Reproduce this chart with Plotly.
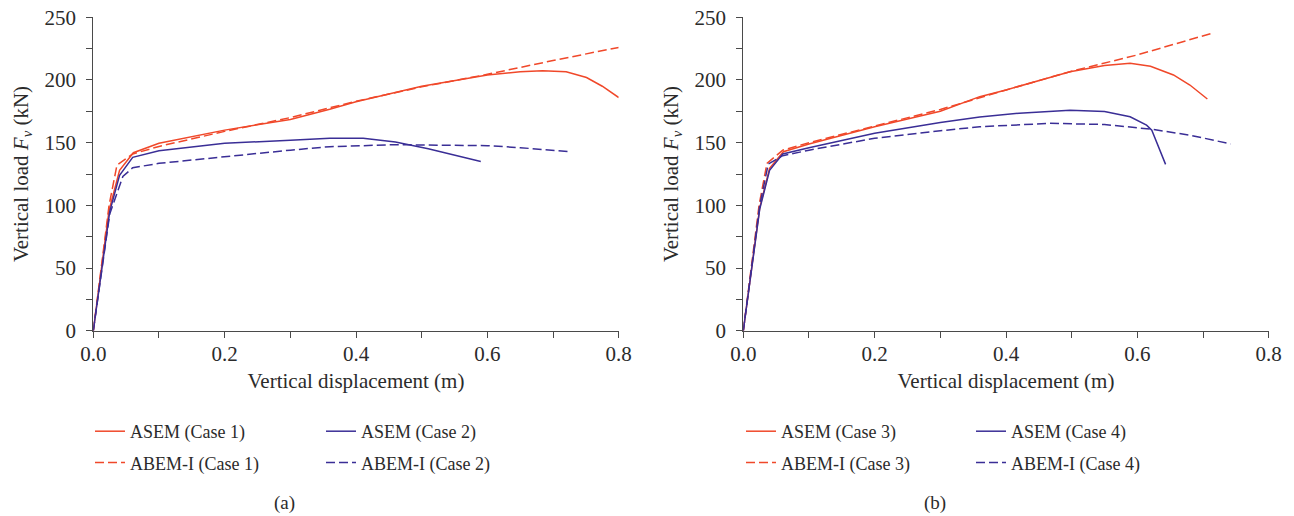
import plotly.graph_objects as go

# ---- Panel (a): Case 1 and Case 2 ----
case1_asem_x = [0, 0.024, 0.04, 0.061, 0.1, 0.2, 0.3, 0.36, 0.4, 0.5, 0.6, 0.65, 0.684, 0.72, 0.751, 0.775, 0.8]
case1_asem_y = [0, 96, 128, 142, 149.5, 160, 168.5, 176.6, 182.7, 195, 204, 206.5, 207.4, 206.5, 202, 195, 186]

case1_abem_x = [0, 0.024, 0.036, 0.06, 0.1, 0.2, 0.3, 0.4, 0.5, 0.6, 0.7, 0.8]
case1_abem_y = [0, 100, 132, 141, 147, 159, 170, 183, 194.5, 204.5, 215.5, 226]

case2_asem_x = [0, 0.025, 0.04, 0.06, 0.1, 0.2, 0.3, 0.36, 0.411, 0.46, 0.51, 0.55, 0.59]
case2_asem_y = [0, 95, 124, 138.3, 143.5, 149.5, 152, 153.5, 153.6, 150.5, 145.2, 140, 135]

case2_abem_x = [0, 0.025, 0.045, 0.06, 0.1, 0.2, 0.3, 0.36, 0.46, 0.6, 0.65, 0.728]
case2_abem_y = [0, 93, 123, 130, 133.5, 139, 144, 146.8, 148.4, 147.6, 146, 142.6]

# ---- Panel (b): Case 3 and Case 4 ----
case3_asem_x = [0, 0.025, 0.04, 0.061, 0.1, 0.2, 0.3, 0.36, 0.4, 0.4975, 0.55, 0.589, 0.62, 0.655, 0.68, 0.7066]
case3_asem_y = [0, 98, 129.5, 142.8, 149, 162.7, 175, 186.7, 192, 206.6, 211.5, 213.3, 211, 204, 196, 184.8]

case3_abem_x = [0, 0.024, 0.036, 0.06, 0.1, 0.2, 0.3, 0.4, 0.5, 0.6, 0.717]
case3_abem_y = [0, 100, 133.5, 144, 150, 163.3, 176.5, 192, 207, 220, 237.8]

case4_asem_x = [0, 0.025, 0.04, 0.06, 0.1, 0.2, 0.3, 0.36, 0.42, 0.4975, 0.55, 0.589, 0.614, 0.622, 0.643]
case4_asem_y = [0, 97, 128, 141, 146, 157.5, 166, 170.5, 173.5, 175.8, 174.8, 170.7, 164, 160, 132.7]

case4_abem_x = [0, 0.025, 0.038, 0.06, 0.1, 0.2, 0.3, 0.36, 0.467, 0.55, 0.622, 0.68, 0.742]
case4_abem_y = [0, 100, 133, 139.6, 144, 153.5, 159.5, 162.7, 165.4, 164.5, 160.7, 156, 149]

x_ticks = [0.0, 0.2, 0.4, 0.6, 0.8]
x_tick_labels = ["0.0", "0.2", "0.4", "0.6", "0.8"]
y_ticks = [0, 50, 100, 150, 200, 250]

RED = "#F0482A"
BLUE = "#3A2E96"
DASH = "9px,4px"
FONT = "Liberation Serif, Times New Roman, serif"
TEXT = "#2b2b2b"
AXIS = "#4a4a4a"

fig = go.Figure()

def add(x, y, name, color, dash, xa, ya, legend):
    fig.add_trace(go.Scatter(
        x=x, y=y, name=name, mode="lines",
        line=dict(color=color, width=1.5, dash=dash),
        xaxis=xa, yaxis=ya, legend=legend, legendgroup=name,
    ))

add(case1_asem_x, case1_asem_y, "ASEM (Case 1)", RED, "solid", "x", "y", "legend")
add(case1_abem_x, case1_abem_y, "ABEM-I (Case 1)", RED, DASH, "x", "y", "legend")
add(case2_asem_x, case2_asem_y, "ASEM (Case 2)", BLUE, "solid", "x", "y", "legend2")
add(case2_abem_x, case2_abem_y, "ABEM-I (Case 2)", BLUE, DASH, "x", "y", "legend2")
add(case3_asem_x, case3_asem_y, "ASEM (Case 3)", RED, "solid", "x2", "y2", "legend3")
add(case3_abem_x, case3_abem_y, "ABEM-I (Case 3)", RED, DASH, "x2", "y2", "legend3")
add(case4_asem_x, case4_asem_y, "ASEM (Case 4)", BLUE, "solid", "x2", "y2", "legend4")
add(case4_abem_x, case4_abem_y, "ABEM-I (Case 4)", BLUE, DASH, "x2", "y2", "legend4")

W, H = 1294, 516
ydom = [(H - 330.7) / H, (H - 17.3) / H]

def xaxis(domain, anchor):
    return dict(
        domain=domain, anchor=anchor, range=[0, 0.8], automargin=False,
        tickvals=x_ticks, ticktext=x_tick_labels,
        showline=True, linecolor=AXIS, linewidth=1.2,
        ticks="outside", ticklen=6, tickcolor=AXIS, tickwidth=1.2,
        minor=dict(dtick=0.1, ticks="outside", ticklen=6, tickcolor=AXIS, tickwidth=1.2),
        showgrid=False, zeroline=False,
        tickfont=dict(family=FONT, size=21, color=TEXT),
        ticklabelstandoff=-2,
        title=dict(text="Vertical displacement (m)", font=dict(family=FONT, size=21, color=TEXT), standoff=8),
    )

def yaxis(domain, anchor):
    return dict(
        domain=domain, anchor=anchor, range=[0, 250], automargin=False,
        tickvals=y_ticks,
        showline=True, linecolor=AXIS, linewidth=1.2,
        ticks="outside", ticklen=6, tickcolor=AXIS, tickwidth=1.2,
        minor=dict(dtick=25, ticks="outside", ticklen=6, tickcolor=AXIS, tickwidth=1.2),
        showgrid=False, zeroline=False,
        tickfont=dict(family=FONT, size=21, color=TEXT),
        ticklabelstandoff=6,
        title=dict(text="Vertical load <i>F<sub>v</sub></i> (kN)", font=dict(family=FONT, size=21, color=TEXT), standoff=10),
    )

def legend(x, y):
    return dict(
        x=x, y=y, xanchor="left", yanchor="top", xref="paper", yref="paper",
        orientation="v", bgcolor="rgba(0,0,0,0)", borderwidth=0,
        font=dict(family=FONT, size=18, color=TEXT), tracegroupgap=5,
        itemwidth=30,
    )

leg_y = (H - 413) / H

fig.update_layout(
    width=W, height=H,
    margin=dict(l=0, r=0, t=0, b=0, autoexpand=False),
    paper_bgcolor="white", plot_bgcolor="white",
    showlegend=True,
    xaxis=xaxis([93.3 / W, 618.7 / W], "y"),
    yaxis=yaxis(ydom, "x"),
    xaxis2=xaxis([743.3 / W, 1268.7 / W], "y2"),
    yaxis2=yaxis(ydom, "x2"),
    legend=legend(90 / W, leg_y),
    legend2=legend(321 / W, leg_y),
    legend3=legend(741 / W, leg_y),
    legend4=legend(971 / W, leg_y),
    annotations=[
        dict(text="(a)", x=284 / W, y=(H - 503) / H, xref="paper", yref="paper",
             xanchor="center", yanchor="middle",
             showarrow=False, font=dict(family=FONT, size=19, color=TEXT)),
        dict(text="(b)", x=935 / W, y=(H - 503) / H, xref="paper", yref="paper",
             xanchor="center", yanchor="middle",
             showarrow=False, font=dict(family=FONT, size=19, color=TEXT)),
    ],
)

fig.write_html("out.html")
